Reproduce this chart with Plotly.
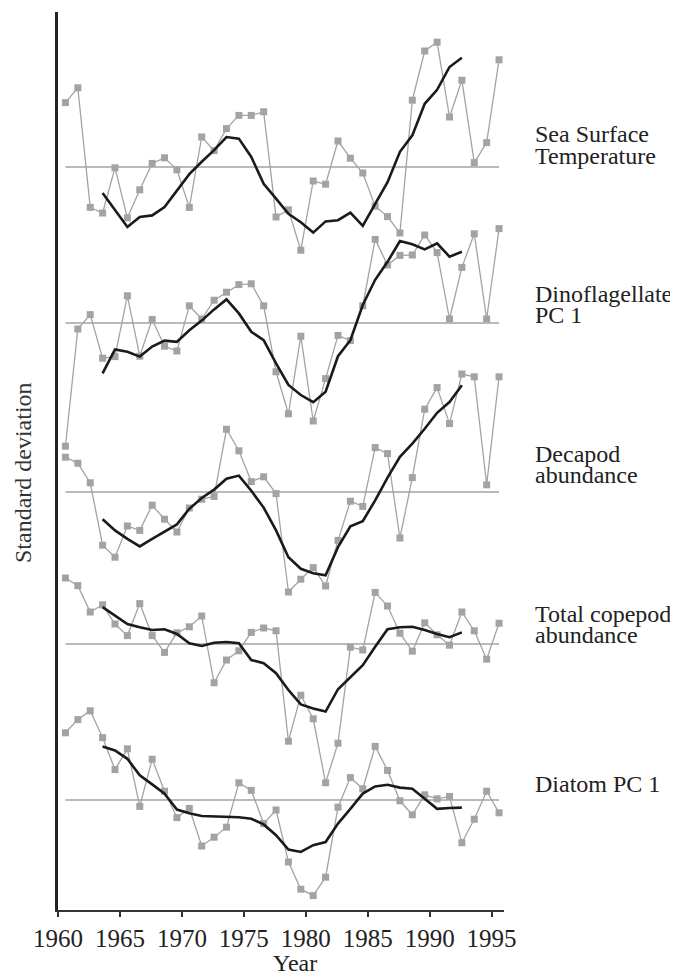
import plotly.graph_objects as go

# ---------------- data (standard deviation units) ----------------
years = list(range(1960, 1996))
smooth_years = list(range(1963, 1993))

series_names = ["Sea Surface Temperature", "Dinoflagellate PC 1", "Decapod abundance",
                "Total copepod abundance", "Diatom PC 1"]

sst = [1.61, 1.98, -1.01, -1.15, -0.02, -1.27, -0.57, 0.09, 0.23, -0.07,
       -1.01, 0.75, 0.41, 0.96, 1.29, 1.29, 1.38, -1.25, -1.07, -2.08,
       -0.35, -0.43, 0.65, 0.22, -0.15, -0.98, -1.24, -1.65, 1.67, 2.90,
       3.12, 1.25, 2.17, 0.11, 0.61, 2.68]
sst_smooth = [-0.65, -1.07, -1.50, -1.25, -1.21, -1.00, -0.58, -0.18, 0.13, 0.42,
              0.75, 0.71, 0.25, -0.42, -0.79, -1.17, -1.38, -1.64, -1.36, -1.33,
              -1.14, -1.47, -0.92, -0.38, 0.38, 0.79, 1.58, 1.93, 2.50, 2.73]

dino = [-3.08, -0.15, 0.21, -0.88, -0.84, 0.68, -0.83, 0.09, -0.58, -0.70,
        0.43, 0.10, 0.57, 0.77, 0.96, 0.98, 0.43, -1.22, -2.27, -0.33,
        -2.45, -1.39, -0.31, -0.44, 0.43, 2.09, 1.45, 1.69, 1.70, 2.20,
        1.76, 0.10, 1.39, 2.23, 0.10, 2.36]
dino_smooth = [-1.26, -0.66, -0.72, -0.84, -0.59, -0.44, -0.47, -0.18, 0.06, 0.34,
               0.59, 0.24, -0.22, -0.43, -1.01, -1.55, -1.80, -1.98, -1.72, -0.83,
               -0.43, 0.45, 1.08, 1.53, 2.05, 1.97, 1.84, 1.99, 1.66, 1.78]

decapod = [0.87, 0.72, 0.23, -1.33, -1.63, -0.85, -0.96, -0.33, -0.68, -1.00,
           -0.40, -0.18, -0.11, 1.57, 1.03, 0.26, 0.38, -0.04, -2.50, -2.18,
           -1.89, -2.35, -1.21, -0.23, -0.36, 1.11, 0.96, -1.15, 0.36, 2.07,
           2.61, 1.71, 2.95, 2.88, 0.18, 2.88]
decapod_smooth = [-0.68, -0.96, -1.17, -1.36, -1.17, -0.98, -0.81, -0.42, -0.15, 0.06,
                  0.33, 0.41, 0.03, -0.39, -0.96, -1.63, -1.92, -2.03, -2.08, -1.38,
                  -0.86, -0.73, -0.21, 0.36, 0.88, 1.21, 1.58, 1.98, 2.25, 2.67]

copepod = [1.65, 1.46, 0.80, 0.98, 0.50, 0.21, 1.01, 0.21, -0.21, 0.28,
           0.43, 0.70, -0.97, -0.40, -0.17, 0.29, 0.40, 0.33, -2.43, -1.28,
           -1.87, -3.47, -2.48, -0.08, -0.15, 1.29, 0.95, 0.27, -0.18, 0.53,
           0.23, -0.03, 0.80, 0.33, -0.38, 0.52]
copepod_smooth = [0.92, 0.70, 0.50, 0.42, 0.35, 0.37, 0.25, 0.02, -0.05, 0.03,
                  0.05, 0.02, -0.40, -0.48, -0.73, -1.15, -1.51, -1.61, -1.69, -1.13,
                  -0.83, -0.53, -0.07, 0.37, 0.42, 0.43, 0.35, 0.25, 0.17, 0.29]

diatom = [1.68, 2.01, 2.23, 1.56, 0.76, 1.28, -0.16, 1.02, 0.22, -0.44,
          -0.21, -1.15, -0.93, -0.68, 0.43, 0.24, -0.59, -0.25, -1.55, -2.23,
          -2.39, -1.93, -0.18, 0.56, 0.28, 1.34, 0.74, -0.02, -0.37, 0.13,
          0.03, 0.09, -1.07, -0.48, 0.22, -0.32]
diatom_smooth = [1.34, 1.24, 1.03, 0.62, 0.39, 0.16, -0.24, -0.33, -0.40, -0.41,
                 -0.41, -0.43, -0.47, -0.61, -0.88, -1.24, -1.30, -1.13, -1.05, -0.59,
                 -0.22, 0.16, 0.34, 0.38, 0.31, 0.28, 0.03, -0.22, -0.20, -0.19]

tick_years = [1960, 1965, 1970, 1975, 1980, 1985, 1990, 1995]

# ---------------- layout helpers ----------------
annual = [sst, dino, decapod, copepod, diatom]
smooth = [sst_smooth, dino_smooth, decapod_smooth, copepod_smooth, diatom_smooth]
stack_offsets = [0.0, -3.9, -8.125, -11.925, -15.825]   # vertical stacking of panels
label_lines = [["Sea Surface", "Temperature"], ["Dinoflagellate", "PC 1"],
               ["Decapod", "abundance"], ["Total copepod", "abundance"], ["Diatom PC 1"]]
label_px = [[134, 156], [294, 315], [454, 475], [614, 635], [784]]

MID = 0.6          # annual values plotted mid-year
PX_PER_SD = 40.0
Y_TOP = 3.875
Y_BOT = -18.575
FONT = "Liberation Serif"
GREY = "#a3a3a3"
PAGE_PAD = 8       # browser default body margin
PLOT_W = 446.4
PLOT_H = 898
PLOT_BOTTOM_PX = 910


def px_to_y(px):
    return (167 - px) / PX_PER_SD


fig = go.Figure()
xa = [y + MID for y in years]
xs = [y + MID for y in smooth_years]

for vals, sm, off in zip(annual, smooth, stack_offsets):
    fig.add_trace(go.Scatter(x=[xa[0], xa[-1]], y=[off, off], mode="lines",
                             line=dict(color=GREY, width=1.6), hoverinfo="skip",
                             showlegend=False))
    fig.add_trace(go.Scatter(x=xa, y=[v + off for v in vals], mode="lines+markers",
                             line=dict(color=GREY, width=1.3),
                             marker=dict(symbol="square", size=7, color=GREY),
                             showlegend=False))
    fig.add_trace(go.Scatter(x=xs, y=[v + off for v in sm], mode="lines",
                             line=dict(color="#1a1a1a", width=2.6),
                             showlegend=False))

annotations = []
for lines, pys in zip(label_lines, label_px):
    for t, py in zip(lines, pys):
        annotations.append(dict(text=t, x=(533 - 58) / PLOT_W, xref="paper", xanchor="left",
                                y=px_to_y(py), yref="y", yanchor="middle",
                                showarrow=False, font=dict(family=FONT, size=24, color="#222")))

annotations.append(dict(text="Standard deviation", x=(23 - 58) / PLOT_W, xref="paper",
                        y=px_to_y(473), yref="y", textangle=-90, showarrow=False,
                        xanchor="center", yanchor="middle",
                        font=dict(family=FONT, size=24, color="#333")))
annotations.append(dict(text="Year", x=(295 - 58) / PLOT_W, xref="paper",
                        y=(PLOT_BOTTOM_PX - 963) / PLOT_H, yref="paper", showarrow=False,
                        xanchor="center", yanchor="middle",
                        font=dict(family=FONT, size=24, color="#222")))

W = 678 - PAGE_PAD
H = 979 - PAGE_PAD
L = 58 - PAGE_PAD
T = 12 - PAGE_PAD
fig.update_layout(
    width=W, height=H,
    margin=dict(l=L, r=W - L - PLOT_W, t=T, b=H - T - PLOT_H, pad=0),
    paper_bgcolor="white", plot_bgcolor="white",
    showlegend=False,
    annotations=annotations,
    xaxis=dict(range=[1960, 1996], tickvals=tick_years, ticktext=[str(t) for t in tick_years],
               showline=True, linecolor="#333", linewidth=1.6, ticks="outside",
               ticklen=5, tickwidth=1.5, tickcolor="#333", showgrid=False, zeroline=False,
               tickfont=dict(family=FONT, size=25, color="#222"), automargin=False),
    yaxis=dict(range=[Y_BOT, Y_TOP], showline=True, linecolor="#222", linewidth=2.6,
               showticklabels=False, ticks="", showgrid=False, zeroline=False,
               automargin=False),
)

fig.write_html("out.html")
